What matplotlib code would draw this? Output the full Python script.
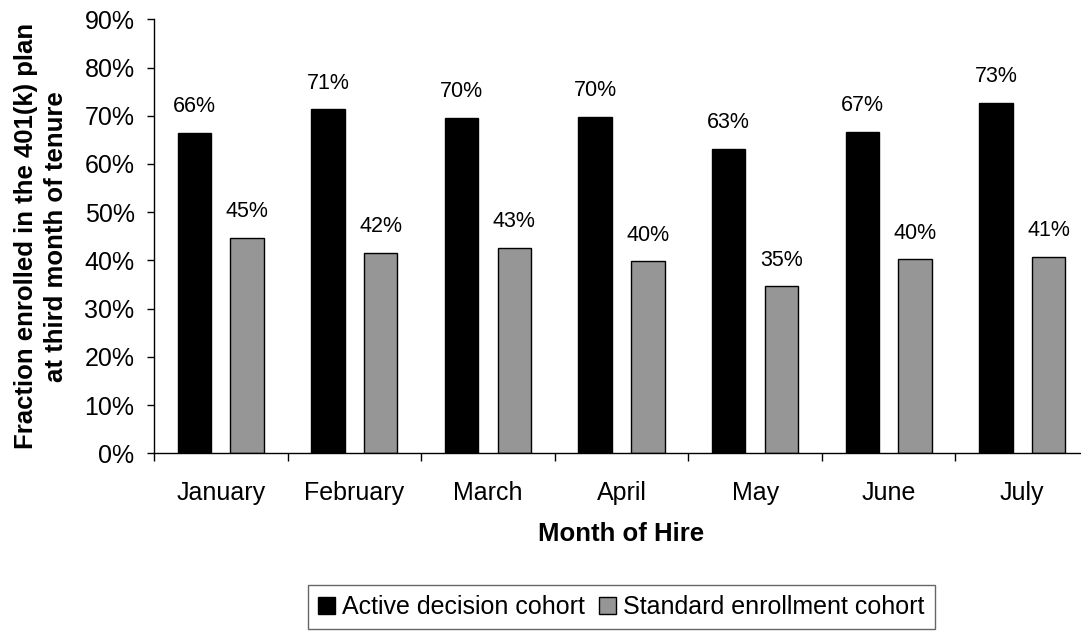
import matplotlib
matplotlib.use("Agg")
import matplotlib.pyplot as plt
import numpy as np
from matplotlib.ticker import FuncFormatter, FixedLocator
from matplotlib.patches import Patch

months = ["January", "February", "March", "April", "May", "June", "July"]
active = [0.664, 0.713, 0.696, 0.697, 0.631, 0.666, 0.726]
standard = [0.446, 0.416, 0.426, 0.398, 0.346, 0.402, 0.407]
series_names = ["Active decision cohort", "Standard enrollment cohort"]
yticks = [0.0, 0.1, 0.2, 0.3, 0.4, 0.5, 0.6, 0.7, 0.8, 0.9]

plt.rcParams['font.family'] = ['Liberation Sans', 'DejaVu Sans']

W, H = 1081, 632
fig = plt.figure(figsize=(W / 100, H / 100), dpi=100)
ax = fig.add_axes([154 / W, (H - 453.3) / H, (1089 - 154) / W, (453.3 - 19.3) / H])

x = np.arange(len(months))
off = 0.197
bw = 0.25
b1 = ax.bar(x - off, active, width=bw, color="black", edgecolor="black", linewidth=1.0)
b2 = ax.bar(x + off, standard, width=bw, color="#969696", edgecolor="black", linewidth=1.0)

for bars, vals in ((b1, active), (b2, standard)):
    for rect, v in zip(bars, vals):
        ax.annotate(f"{int(v * 100 + 0.5):d}%", (rect.get_x() + rect.get_width() / 2, v),
                    xytext=(0, 15), textcoords="offset points",
                    ha="center", va="baseline", fontsize=15.5)

ax.set_xlim(-0.5, len(months) - 0.5)
ax.set_ylim(0, 0.9)
ax.set_yticks(yticks)
ax.yaxis.set_major_formatter(FuncFormatter(lambda v, p: f"{round(v * 100):d}%"))
ax.tick_params(axis="y", direction="out", length=5, width=1, labelsize=18, pad=9)

ax.xaxis.set_major_locator(FixedLocator(np.arange(-0.5, len(months), 1.0)))
ax.xaxis.set_major_formatter(FuncFormatter(lambda v, p: ""))
ax.xaxis.set_minor_locator(FixedLocator(x))
ax.set_xticklabels(months, minor=True)
ax.tick_params(axis="x", which="major", direction="out", length=6, width=1)
ax.tick_params(axis="x", which="minor", length=0, labelsize=18, pad=20)

for s in ("top", "right"):
    ax.spines[s].set_visible(False)
for s in ("left", "bottom"):
    ax.spines[s].set_linewidth(1)
    ax.spines[s].set_color("black")

ax.set_xlabel("Month of Hire", fontsize=18.5, fontweight="bold", labelpad=12)
ax.set_ylabel("Fraction enrolled in the 401(k) plan\nat third month of tenure",
              fontsize=18.5, fontweight="bold", labelpad=12, linespacing=1.3)

handles = [Patch(facecolor="black", edgecolor="black", linewidth=1.0),
           Patch(facecolor="#969696", edgecolor="black", linewidth=1.0)]
leg = fig.legend(handles, series_names, loc="upper center",
                 bbox_to_anchor=(621.5 / W, 1 - 585 / H), ncol=2, fontsize=18,
                 frameon=True, fancybox=False, edgecolor="#404040",
                 handlelength=0.68, handleheight=0.68, handletextpad=0.28,
                 columnspacing=0.56, borderpad=0.4, borderaxespad=0)
leg.get_frame().set_linewidth(1.0)

fig.savefig("out.png", dpi=100)
